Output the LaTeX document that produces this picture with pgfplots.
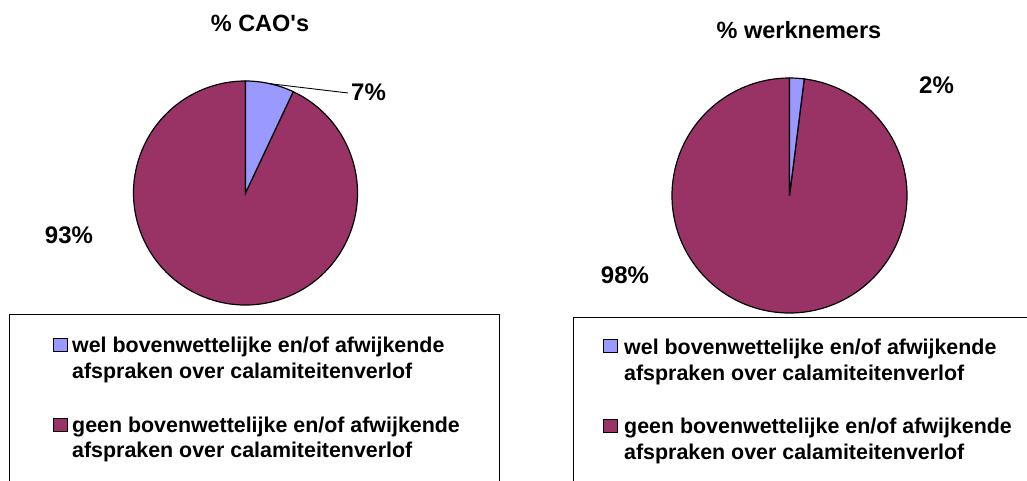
\documentclass[border=0pt]{standalone}
\usepackage{fontspec}
\setmainfont{Liberation Sans}
\usepackage{pgfplots}
\pgfplotsset{compat=1.18}
\usepackage{pgfplotstable}

\definecolor{wel}{HTML}{9999FF}
\definecolor{geen}{HTML}{993366}

% shares in percent
\pgfplotstableread{
share pct
wel   7
geen  93
}\caos
\pgfplotstableread{
share pct
wel   2
geen  98
}\werkn

\pgfplotstablegetelem{0}{pct}\of\caos \let\caoWel\pgfplotsretval
\pgfplotstablegetelem{1}{pct}\of\caos \let\caoGeen\pgfplotsretval
\pgfplotstablegetelem{0}{pct}\of\werkn \let\wnWel\pgfplotsretval
\pgfplotstablegetelem{1}{pct}\of\werkn \let\wnGeen\pgfplotsretval
\pgfmathsetmacro\caoEnd{90-3.6*\caoWel}
\pgfmathsetmacro\caoMid{90-1.8*\caoWel}
\pgfmathsetmacro\wnEnd{90-3.6*\wnWel}

\newcommand\ttl{\fontsize{23.5}{28}\selectfont\bfseries}
\newcommand\lbl{\fontsize{24}{28}\selectfont\bfseries}
\newcommand\leg{\fontsize{21.4}{26}\selectfont\bfseries}

\begin{document}
\begin{tikzpicture}
\useasboundingbox (0,0) rectangle (1027pt,481pt);
\begin{axis}[
  at={(0,0)}, anchor=south west,
  width=1027pt, height=481pt, scale only axis,
  xmin=0, xmax=1027, ymin=0, ymax=481, y dir=reverse,
  axis lines=none, clip=false,
]
% --- left pie: % CAO's
\filldraw[fill=geen, draw=black, line width=1.2pt]
  (axis cs:245.5,193) -- +(\caoEnd:112pt)
  arc[start angle=\caoEnd, end angle=-270, radius=112pt] -- cycle;
\filldraw[fill=wel, draw=black, line width=1.2pt]
  (axis cs:245.5,193) -- +(90:112pt)
  arc[start angle=90, end angle=\caoEnd, radius=112pt] -- cycle;
\draw[line width=0.9pt] (axis cs:245.5,193) ++(\caoMid:112pt) -- (axis cs:348,93);
\node[anchor=base] at (axis cs:260,32) {\ttl \% CAO\textquotesingle s};
\node[anchor=base] at (axis cs:368.5,101) {\lbl \caoWel\%};
\node[anchor=base] at (axis cs:69,243) {\lbl \caoGeen\%};

% legend left
\draw[line width=1pt] (axis cs:9,481) -- (axis cs:9,314) -- (axis cs:499,314) -- (axis cs:499,481);
\filldraw[fill=wel, draw=black, line width=1pt] (axis cs:53,338.5) rectangle (axis cs:67,351);
\filldraw[fill=geen, draw=black, line width=1pt] (axis cs:53,418.5) rectangle (axis cs:67,431.5);
\node[anchor=base west, inner sep=0pt] at (axis cs:72,352.5) {\leg wel bovenwettelijke en/of afwijkende};
\node[anchor=base west, inner sep=0pt] at (axis cs:72,378) {\leg afspraken over calamiteitenverlof};
\node[anchor=base west, inner sep=0pt] at (axis cs:72,432) {\leg geen bovenwettelijke en/of afwijkende};
\node[anchor=base west, inner sep=0pt] at (axis cs:72,457) {\leg afspraken over calamiteitenverlof};

% --- right pie: % werknemers
\filldraw[fill=geen, draw=black, line width=1.2pt]
  (axis cs:789.5,195.5) -- +(\wnEnd:117.5pt)
  arc[start angle=\wnEnd, end angle=-270, radius=117.5pt] -- cycle;
\filldraw[fill=wel, draw=black, line width=1.2pt]
  (axis cs:789.5,195.5) -- +(90:117.5pt)
  arc[start angle=90, end angle=\wnEnd, radius=117.5pt] -- cycle;
\node[anchor=base] at (axis cs:799,39) {\ttl \% werknemers};
\node[anchor=base] at (axis cs:936.5,94) {\lbl \wnWel\%};
\node[anchor=base] at (axis cs:625,283) {\lbl \wnGeen\%};

% legend right
\draw[line width=1pt] (axis cs:573,481) -- (axis cs:573,317) -- (axis cs:1030,317);
\filldraw[fill=wel, draw=black, line width=1pt] (axis cs:603.5,339.5) rectangle (axis cs:617.5,352);
\filldraw[fill=geen, draw=black, line width=1pt] (axis cs:603.5,419.5) rectangle (axis cs:617.5,432.5);
\node[anchor=base west, inner sep=0pt] at (axis cs:624,354) {\leg wel bovenwettelijke en/of afwijkende};
\node[anchor=base west, inner sep=0pt] at (axis cs:624,380) {\leg afspraken over calamiteitenverlof};
\node[anchor=base west, inner sep=0pt] at (axis cs:624,433.5) {\leg geen bovenwettelijke en/of afwijkende};
\node[anchor=base west, inner sep=0pt] at (axis cs:624,459) {\leg afspraken over calamiteitenverlof};
\end{axis}
\end{tikzpicture}
\end{document}
